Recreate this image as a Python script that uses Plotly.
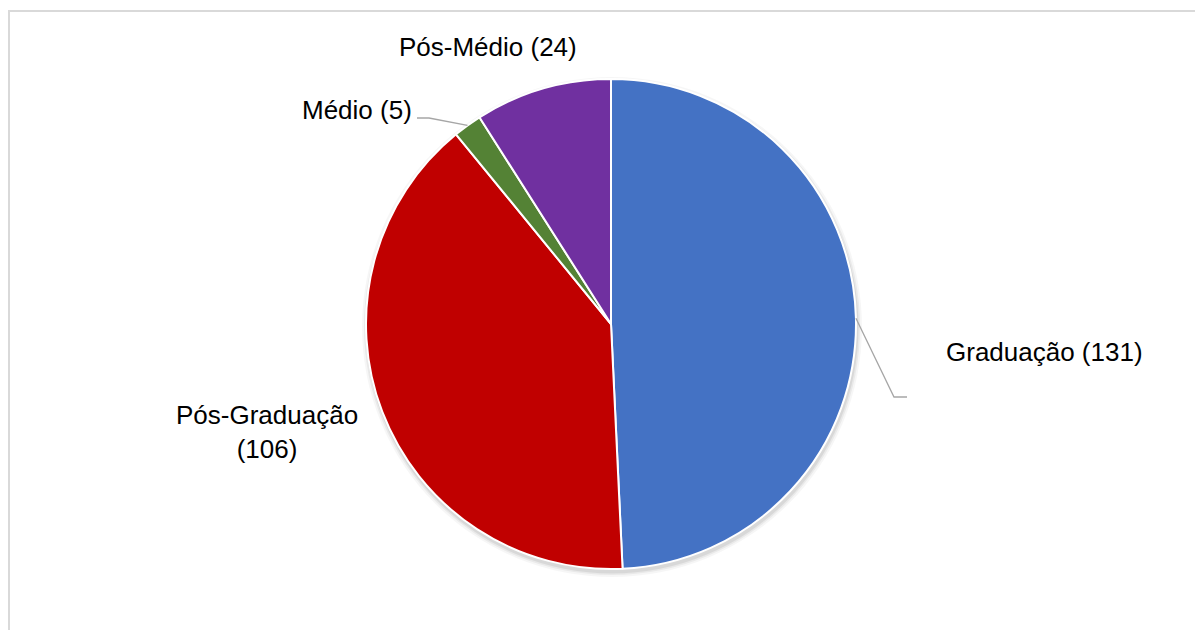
import numpy as np
import plotly.graph_objects as go

categories = ["Graduação", "Pós-Graduação", "Médio", "Pós-Médio"]
values = [131, 106, 5, 24]
colors = ["#4472C4", "#C00000", "#548235", "#7030A0"]
label_texts = ["Graduação (131)", "Pós-Graduação<br>(106)", "Médio (5)", "Pós-Médio (24)"]

OFF = 8  # page body margin
W, H = 1203 - OFF, 630 - OFF
CX, CY, R = 611, 324, 245  # pie centre / radius in screen pixels

def px2paper(x, y):
    return (x - OFF) / W, 1 - (y - OFF) / H

x0, y1 = px2paper(CX - R, CY - R)
x1, y0 = px2paper(CX + R, CY + R)

fig = go.Figure()

# soft shadow layers
for k, a in [(5, 0.035), (3, 0.05), (1.5, 0.07)]:
    sx0, sy1 = px2paper(CX - R - k + 1, CY - R - k + 3)
    sx1, sy0 = px2paper(CX + R + k + 1, CY + R + k + 3)
    fig.add_trace(go.Pie(values=[1], labels=["s"], marker=dict(colors=[f"rgba(0,0,0,{a})"]),
                         textinfo="none", hoverinfo="skip", showlegend=False,
                         domain=dict(x=[sx0, sx1], y=[sy0, sy1]), sort=False))

fig.add_trace(go.Pie(
    labels=categories, values=values, sort=False, direction="clockwise", rotation=0,
    marker=dict(colors=colors, line=dict(color="#FFFFFF", width=2)),
    textinfo="none", showlegend=False,
    domain=dict(x=[x0, x1], y=[y0, y1]),
))

# slice mid-angles from data
vals = np.array(values, dtype=float)
cum = np.cumsum(vals) / vals.sum() * 360
start = np.concatenate([[0], cum[:-1]])
mid = np.radians((start + cum) / 2)
edge = [(CX + R * np.sin(m), CY - R * np.cos(m)) for m in mid]

# label positions (screen pixels)
label_pos = [(1044, 352), (267, 432), (357, 110), (488, 47)]
font = dict(family="Liberation Sans, Arial, sans-serif", size=26, color="#000000")
for txt, (lx, ly) in zip(label_texts, label_pos):
    ax, ay = px2paper(lx, ly)
    fig.add_annotation(x=ax, y=ay, xref="paper", yref="paper", text=txt, showarrow=False,
                       xanchor="center", yanchor="middle", font=font, align="center")

# leader lines
line_style = dict(color="#A6A6A6", width=1.3)
def path_of(pts):
    return "M " + " L ".join(f"{px2paper(x, y)[0]},{px2paper(x, y)[1]}" for x, y in pts)

ex, ey = edge[0]
fig.add_shape(type="path", path=path_of([(ex, ey), (894, 397), (907, 397)]),
              xref="paper", yref="paper", line=line_style)
ex, ey = edge[2]
fig.add_shape(type="path", path=path_of([(417, 118), (429, 118), (ex, ey)]),
              xref="paper", yref="paper", line=line_style)

# chart border
bx0, by1 = px2paper(9, 11)
bx1, by0 = px2paper(1215, 645)
fig.add_shape(type="rect", x0=bx0, x1=bx1, y0=by0, y1=by1, xref="paper", yref="paper",
              line=dict(color="#D9D9D9", width=2), layer="below")

fig.update_layout(width=W, height=H, margin=dict(l=0, r=0, t=0, b=0),
                  paper_bgcolor="white", plot_bgcolor="white")
fig.write_html("out.html")
